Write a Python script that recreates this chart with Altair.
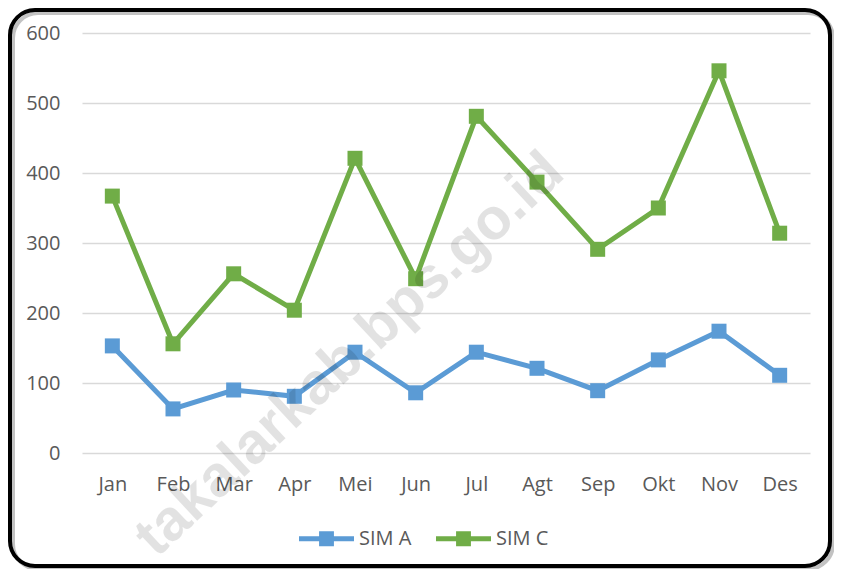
import altair as alt
import pandas as pd

months = ["Jan", "Feb", "Mar", "Apr", "Mei", "Jun", "Jul", "Agt", "Sep", "Okt", "Nov", "Des"]
sim_a = [153, 63, 90, 81, 144, 86, 144, 121, 89, 133, 174, 111]
sim_c = [367, 156, 256, 204, 421, 249, 481, 387, 291, 350, 546, 314]
series = ["SIM A", "SIM C"]
colors = ["#5B9BD5", "#70AD47"]
y_ticks = [0, 100, 200, 300, 400, 500, 600]
watermark = "takalarkab.bps.go.id"

rows = []
for name, vals in zip(series, [sim_a, sim_c]):
    for m, v in zip(months, vals):
        rows.append({"Bulan": m, "Nilai": v, "Seri": name})
df = pd.DataFrame(rows)

FONT = "Open Sans"
TXT = "#595959"
FS = 20

x_enc = alt.X("Bulan:N", sort=months,
              scale=alt.Scale(type="point", padding=0.5),
              axis=alt.Axis(title=None, labelAngle=0, ticks=False, domain=False,
                            labelPadding=21, labelFontSize=FS, labelColor=TXT,
                            labelFont=FONT, grid=False))
y_enc = alt.Y("Nilai:Q", scale=alt.Scale(domain=[0, 600], nice=False),
              axis=alt.Axis(title=None, values=y_ticks, ticks=False, domain=False,
                            labelPadding=22, labelFontSize=FS, labelColor=TXT,
                            labelFont=FONT, grid=True, gridColor="#D9D9D9",
                            gridWidth=1.5))
color_scale = alt.Scale(domain=series, range=colors)

sym_path = ("M-1,-0.09 L-0.27,-0.09 L-0.27,-0.27 L0.27,-0.27 L0.27,-0.09 L1,-0.09 "
            "L1,0.09 L0.27,0.09 L0.27,0.27 L-0.27,0.27 L-0.27,0.09 L-1,0.09 Z")

legend = alt.Legend(title=None, orient="none", direction="horizontal",
                    legendX=217, legendY=478,
                    symbolType=sym_path, symbolSize=3025,
                    symbolStrokeWidth=0, symbolOpacity=1,
                    labelFontSize=FS, labelColor=TXT, labelFont=FONT,
                    labelOffset=5, columnPadding=24)

lines = alt.Chart(df).mark_line(strokeWidth=5).encode(
    x=x_enc, y=y_enc,
    color=alt.Color("Seri:N", scale=color_scale, legend=legend),
)

points = alt.Chart(df).mark_point(shape="square", filled=True, size=225, opacity=1).encode(
    x=x_enc, y=y_enc,
    color=alt.Color("Seri:N", scale=color_scale, legend=legend),
)

frame_df = alt.Data(values=[{"k": 1}])
shadow = alt.Chart(frame_df).mark_rect(
    fillOpacity=0, stroke="#9a9a9a", strokeOpacity=0.6, strokeWidth=4, cornerRadius=25
).encode(x=alt.value(-69), x2=alt.value(751), y=alt.value(-20), y2=alt.value(536))
frame = alt.Chart(frame_df).mark_rect(
    fillOpacity=0, stroke="#000000", strokeWidth=4, cornerRadius=25
).encode(x=alt.value(-72), x2=alt.value(748), y=alt.value(-23), y2=alt.value(533))

wm = alt.Chart(alt.Data(values=[{"t": watermark}])).mark_text(
    angle=317, fontSize=58, fontWeight="bold", font="Liberation Sans",
    color="#000000", opacity=0.11, align="center", baseline="middle"
).encode(x=alt.value(268), y=alt.value(322), text="t:N")

chart = alt.layer(shadow, frame, lines, points, wm).properties(
    width=728, height=420,
    autosize=alt.AutoSizeParams(type="none"),
    padding={"left": 74, "top": 25, "right": 24, "bottom": 116},
    background="white",
).configure_view(stroke=None)

chart.save("out.html", embed_options={"renderer": "svg", "actions": False})
